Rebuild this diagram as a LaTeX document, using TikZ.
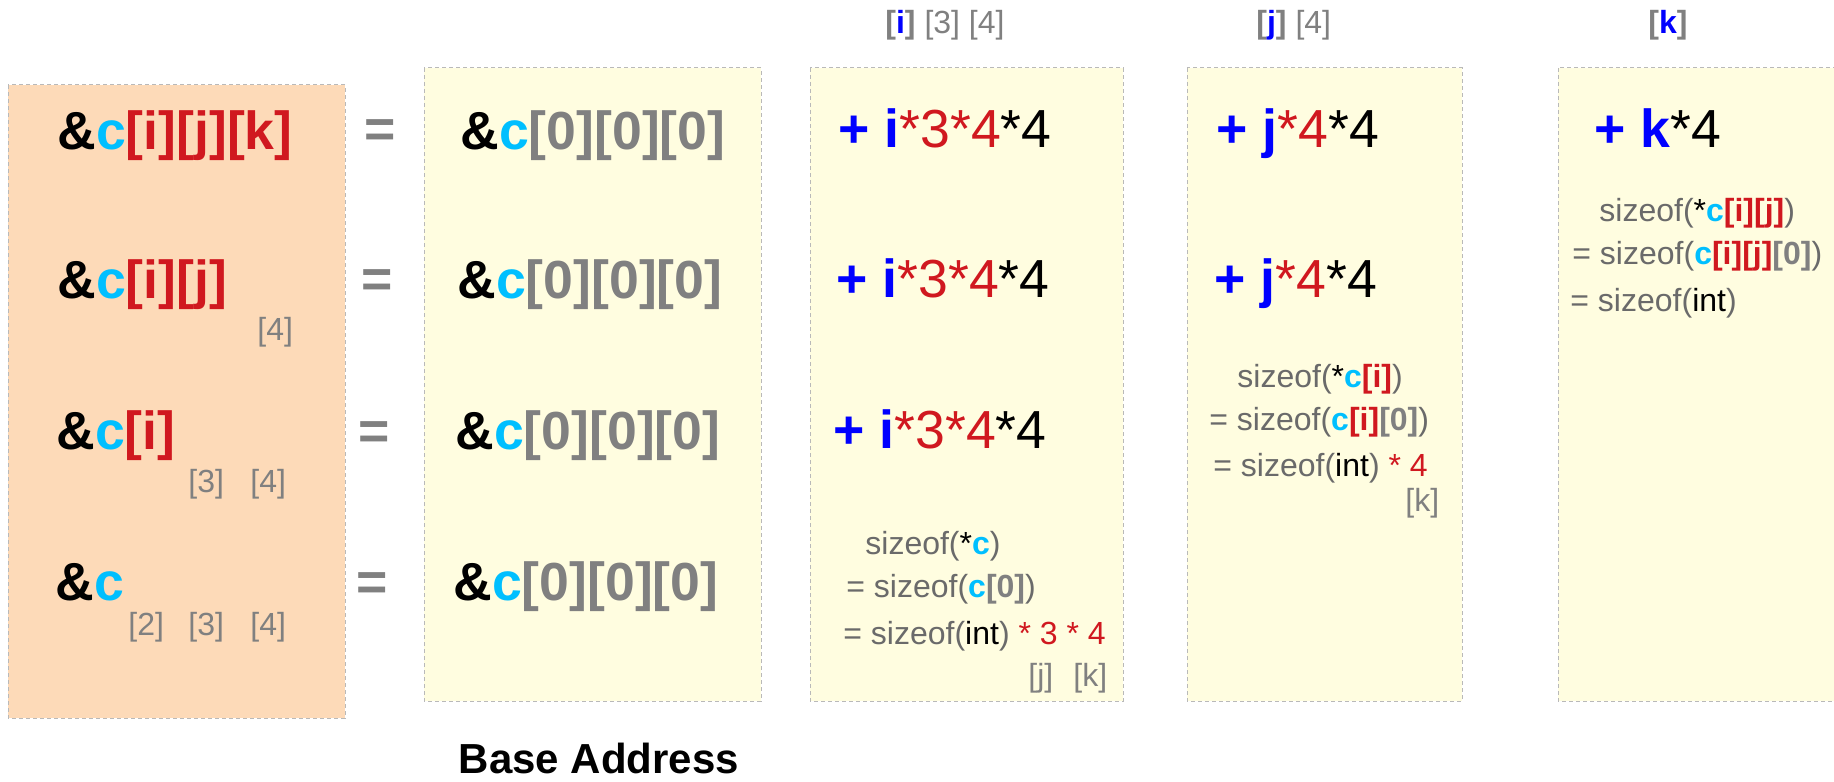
\documentclass[tikz,border=0pt]{standalone}
\usepackage{fontspec}
\setmainfont{Liberation Sans}

\definecolor{cvar}{HTML}{00BFFF}
\definecolor{idx}{HTML}{D0181F}
\definecolor{off}{HTML}{0000FF}
\definecolor{brk}{HTML}{808080}
\definecolor{szf}{HTML}{6A6A6A}
\definecolor{peach}{HTML}{FDDAB8}
\definecolor{cream}{HTML}{FFFDE0}

\newcommand{\cc}{\textcolor{cvar}{\textbf{c}}}
\newcommand{\ix}[1]{\textcolor{idx}{\textbf{[#1]}}}
\newcommand{\zr}{\textcolor{brk}{\textbf{[0]}}}
\newcommand{\dm}[1]{\textcolor{brk}{[#1]}}
\newcommand{\hd}[1]{\textbf{\textcolor{brk}{[}\textcolor{off}{#1}\textcolor{brk}{]}}}
\newcommand{\pl}[1]{\textcolor{off}{\textbf{+ #1}}}

\tikzset{
  panel/.style={draw={rgb,255:red,185;green,185;blue,185},dash pattern={on 2pt off 1.5pt},line width=0.5pt},
  bigtxt/.style={anchor=base west,inner sep=0pt,font=\fontsize{26.8}{30}\selectfont},
  eqsign/.style={anchor=base,inner sep=0pt,font=\fontsize{26.8}{30}\selectfont\bfseries,text=brk},
  smalltxt/.style={anchor=base west,inner sep=0pt,font=\fontsize{16}{19}\selectfont,text=szf},
}

\begin{document}
\begin{tikzpicture}[x=0.5pt,y=0.5pt,yscale=-1,xscale=1]
\useasboundingbox (0,0) rectangle (1834,781);

%Shape: Rectangle
\draw [panel, fill=peach] (8,85) rectangle (345,718);
%Shape: Rectangle
\draw [panel, fill=cream] (424,68) rectangle (761,701);
%Shape: Rectangle
\draw [panel, fill=cream] (810,68) rectangle (1123,701);
%Shape: Rectangle
\draw [panel, fill=cream] (1187,68) rectangle (1462,701);
%Shape: Rectangle
\draw [panel, fill=cream] (1558,68) rectangle (1845,701);

% Text Node
\draw (57,149) node (lhsk) [bigtxt] {\textbf{\&}\cc\ix{i}\ix{j}\ix{k}};
% Text Node
\draw (57,298) node (lhsj) [bigtxt] {\textbf{\&}\cc\ix{i}\ix{j}};
% Text Node
\draw (56,449) node (lhsi) [bigtxt] {\textbf{\&}\cc\ix{i}};
% Text Node
\draw (55,600) node (lhsc) [bigtxt] {\textbf{\&}\cc};
% Text Node
\draw (257,340) node (dimj) [smalltxt] {\dm{4}};
% Text Node
\draw (188,492) node (dimia) [smalltxt] {\dm{3}};
% Text Node
\draw (250,492) node (dimib) [smalltxt] {\dm{4}};
% Text Node
\draw (128,635) node (dimca) [smalltxt] {\dm{2}};
% Text Node
\draw (188,635) node (dimcb) [smalltxt] {\dm{3}};
% Text Node
\draw (250,635) node (dimcc) [smalltxt] {\dm{4}};

% Text Node
\draw (380,148) node (eqk) [eqsign] {=};
% Text Node
\draw (377,297) node (eqj) [eqsign] {=};
% Text Node
\draw (374,449) node (eqi) [eqsign] {=};
% Text Node
\draw (372,600) node (eqc) [eqsign] {=};

% Text Node
\draw (460,149) node (basek) [bigtxt] {\textbf{\&}\cc\zr\zr\zr};
% Text Node
\draw (457,298) node (basej) [bigtxt] {\textbf{\&}\cc\zr\zr\zr};
% Text Node
\draw (455,449) node (basei) [bigtxt] {\textbf{\&}\cc\zr\zr\zr};
% Text Node
\draw (453,600) node (basec) [bigtxt] {\textbf{\&}\cc\zr\zr\zr};
% Text Node
\draw (599,773) node (baselbl) [anchor=base,inner sep=0pt,font=\fontsize{21}{25}\selectfont\bfseries] {Base Address};

% Text Node
\draw (885,34) node (hdi) [smalltxt] {\hd{i} \dm{3} \dm{4}};
% Text Node
\draw (838,148) node (offik) [bigtxt] {\pl{i}\textcolor{idx}{*3*4}*4};
% Text Node
\draw (836,297) node (offij) [bigtxt] {\pl{i}\textcolor{idx}{*3*4}*4};
% Text Node
\draw (833,448) node (offii) [bigtxt] {\pl{i}\textcolor{idx}{*3*4}*4};
% Text Node
\draw (865,554) node (szia) [smalltxt] {sizeof(\textcolor{black}{*}\cc)};
% Text Node
\draw (846,597) node (szib) [smalltxt] {= sizeof(\cc\zr)};
% Text Node
\draw (843,644) node (szic) [smalltxt] {= sizeof(\textcolor{black}{int}) \textcolor{idx}{* 3 * 4}};
% Text Node
\draw (1028,686) node (szij) [smalltxt] {\dm{j}};
% Text Node
\draw (1073,686) node (szik) [smalltxt] {\dm{k}};

% Text Node
\draw (1256,34) node (hdj) [smalltxt] {\hd{j} \dm{4}};
% Text Node
\draw (1216,148) node (offjk) [bigtxt] {\pl{j}\textcolor{idx}{*4}*4};
% Text Node
\draw (1214,297) node (offjj) [bigtxt] {\pl{j}\textcolor{idx}{*4}*4};
% Text Node
\draw (1237,387) node (szja) [smalltxt] {sizeof(\textcolor{black}{*}\cc\ix{i})};
% Text Node
\draw (1209,430) node (szjb) [smalltxt] {= sizeof(\cc\ix{i}\zr)};
% Text Node
\draw (1213,476) node (szjc) [smalltxt] {= sizeof(\textcolor{black}{int}) \textcolor{idx}{* 4}};
% Text Node
\draw (1405,511) node (szjk) [smalltxt] {\dm{k}};

% Text Node
\draw (1648,34) node (hdk) [smalltxt] {\hd{k}};
% Text Node
\draw (1594,148) node (offk) [bigtxt] {\pl{k}*4};
% Text Node
\draw (1599,221) node (szka) [smalltxt] {sizeof(\textcolor{black}{*}\cc\ix{i}\ix{j})};
% Text Node
\draw (1572,264) node (szkb) [smalltxt] {= sizeof(\cc\ix{i}\ix{j}\zr)};
% Text Node
\draw (1570,311) node (szkc) [smalltxt] {= sizeof(\textcolor{black}{int})};

\end{tikzpicture}
\end{document}
